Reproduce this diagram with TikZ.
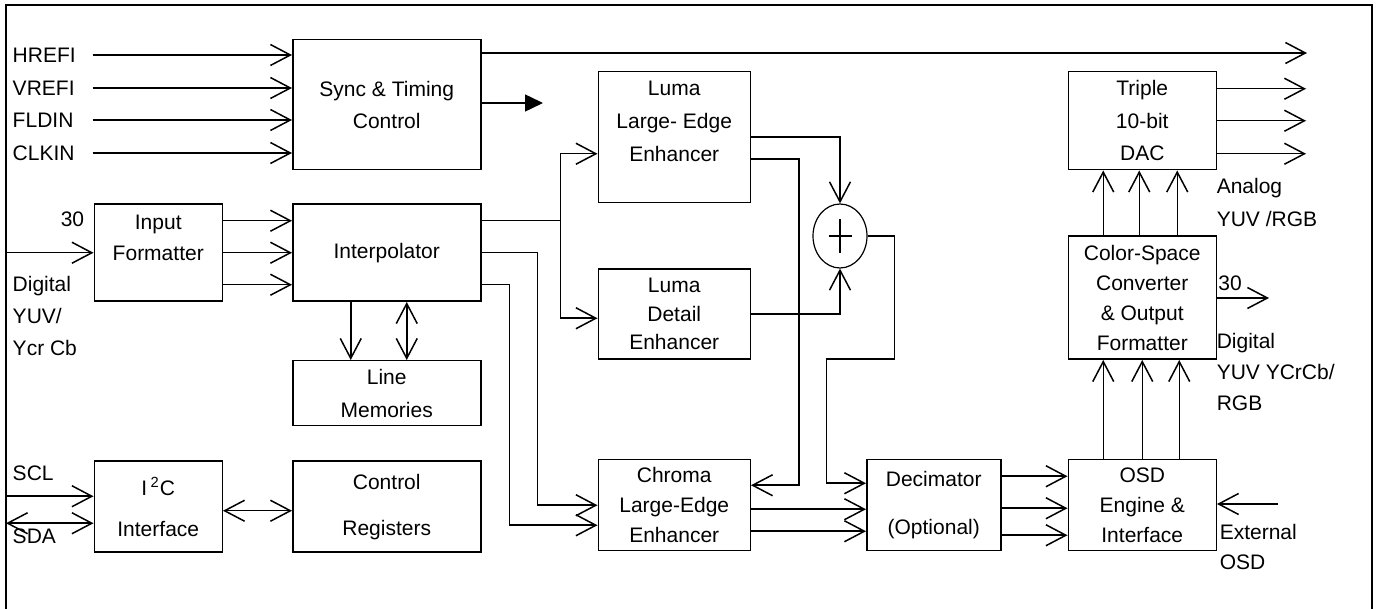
\documentclass[tikz,border=0pt]{standalone}
\usepackage{fontspec}
\setmainfont{Liberation Sans}
\usepackage{tikz}
\usetikzlibrary{arrows.meta, calc, positioning, shapes.geometric}

\begin{document}
\begin{tikzpicture}[
  font=\fontsize{10.5}{15}\selectfont,
  line width=0.75pt,
  block/.style={draw, align=center, inner sep=0pt, line width=0.75pt},
  blocktxt/.style={align=center, inner sep=0pt},
  sumnode/.style={draw, ellipse, minimum width=27pt, minimum height=32pt,
                  inner sep=0pt, line width=0.6pt,
                  path picture={\draw[line width=0.75pt]
                    (path picture bounding box.center) ++(-5.75pt,0) -- ++(11.5pt,0)
                    (path picture bounding box.center) ++(0,8.5pt) -- ++(0,-17pt);}},
  sig/.style={anchor=west, align=left, inner sep=0pt},
  pin/.style={sig, text width=39.5pt},
  arrow/.style={-{Straight Barb[length=10pt, width=10.5pt]}},
  dblarrow/.style={{Straight Barb[length=10pt, width=10.5pt]}-{Straight Barb[length=10pt, width=10.5pt]}},
  fillarrow/.style={-{Triangle[length=9pt, width=8.5pt]}}
]

% ---------------- Frame ----------------
\useasboundingbox (0,0) rectangle (689pt,-304.5pt);
\draw[line width=0.8pt] (3pt,-304.5pt) |- (686pt,-2.5pt) -- (686pt,-304.5pt);
\coordinate (lframe) at (3pt,0);
\coordinate (rout) at (653pt,0);

% ---------------- Input side ----------------
\node[block, minimum width=94pt, minimum height=65pt, anchor=north west] (sync)
  at (146pt,-19.5pt) {Sync \& Timing\\[1pt]Control};
\node[block, minimum width=94pt, minimum height=48.5pt, below=16.5pt of sync] (interp) {Interpolator};
\node[block, minimum width=94pt, minimum height=32.5pt, below=29pt of interp] (linemem) {Line\\[1.5pt]Memories};
\node[block, minimum width=94pt, minimum height=45.5pt, below=17pt of linemem] (ctrl) {Control\\[8pt]Registers};
\node[block, minimum width=64pt, minimum height=48.5pt, left=34.5pt of interp,
      label={[blocktxt, yshift=7.5pt]center:Input\\[0.5pt]Formatter}] (infmt) {};
\node[block, minimum width=64pt, minimum height=45.5pt, left=34.5pt of ctrl] (i2c)
  {I\,\textsuperscript{2}C\\[5.5pt]Interface};

% ---------------- Enhancers ----------------
\node[block, minimum width=76pt, minimum height=65.5pt, below right=16pt and 58pt of sync.north east,
      label={[blocktxt, yshift=8pt]center:Luma\\[1.5pt]Large- Edge\\[1.5pt]Enhancer}] (lumale) {};
\node[block, minimum width=76pt, minimum height=45pt, below=32.5pt of lumale] (lumadet)
  {Luma\\[-0.75pt]Detail\\[-0.75pt]Enhancer};
\node[block, minimum width=76pt, minimum height=45.5pt, below=49.5pt of lumadet] (chroma)
  {Chroma\\Large-Edge\\Enhancer};
\node[sumnode] (sum) at ($(lumale.south east)!0.5!(lumadet.north east)+(44.5pt,0)$) {};

% ---------------- Output side ----------------
\node[block, minimum width=67pt, minimum height=45.5pt, right=57.5pt of chroma] (decim)
  {Decimator\\[9pt](Optional)};
\node[block, minimum width=74pt, minimum height=45.5pt, right=33pt of decim] (osd)
  {OSD\\Engine \&\\Interface};
\node[block, minimum width=74pt, minimum height=61.5pt, above=49.5pt of osd] (csc)
  {Color-Space\\Converter\\\& Output\\Formatter};
\node[block, minimum width=74pt, minimum height=49pt, above=32.5pt of csc] (dac)
  {Triple\\[1.25pt]10-bit\\[1.25pt]DAC};

% ---------------- Pin labels ----------------
\node[pin] (hrefi) at (6pt,-27.5pt) {HREFI};
\node[pin] (vrefi) at (6pt,-44pt) {VREFI};
\node[pin] (fldin) at (6pt,-60pt) {FLDIN};
\node[pin] (clkin) at (6pt,-76.5pt) {CLKIN};
\node (bus30in) at (36.25pt,-109.5pt) {30};
\node[sig] (digin) at (6pt,-158pt) {Digital\\[1pt]YUV/\\[1pt]Ycr Cb};
\node[sig] (scl) at (6pt,-236.5pt) {SCL};
\node[sig] (sda) at (6pt,-268pt) {SDA};
\node[sig] (analog) at (608pt,-101.25pt) {Analog\\[1.5pt]YUV /RGB};
\node (bus30out) at (615pt,-141.5pt) {30};
\node[sig] (digout) at (608pt,-186pt) {Digital\\[0.5pt]YUV YCrCb/\\[0.5pt]RGB};
\node[sig] (extlbl) at (609.5pt,-273.5pt) {External\\OSD};

\coordinate (hout) at (653.5pt,-26.5pt);
\coordinate (tout) at (271.5pt,-51.5pt);
\coordinate (dout) at (634.5pt,-149pt);
\coordinate (extosd) at (639pt,-252pt);

% ---------------- Arrows ----------------
\draw[arrow] (hrefi.east) -- (hrefi.east -| sync.west);
\draw[arrow] (vrefi.east) -- (vrefi.east -| sync.west);
\draw[arrow] (fldin.east) -- (fldin.east -| sync.west);
\draw[arrow] (clkin.east) -- (clkin.east -| sync.west);
\draw[arrow] (sync.east |- hout) -- (hout);
\draw[fillarrow] (sync.east |- tout) -- (tout);

\draw[arrow] (infmt.west -| lframe) -- (infmt.west);
\draw[arrow] ([yshift=16pt]infmt.east) -- ([yshift=16pt]interp.west);
\draw[arrow] (infmt.east) -- (interp.west);
\draw[arrow] ([yshift=-16pt]infmt.east) -- ([yshift=-16pt]interp.west);

\draw[arrow] ([xshift=-18pt]interp.south) -- ([xshift=-18pt]linemem.north);
\draw[dblarrow] ([xshift=10pt]interp.south) -- ([xshift=10pt]linemem.north);

\draw[arrow] ([yshift=5.25pt]i2c.west -| lframe) -- ([yshift=5.25pt]i2c.west);
\draw[dblarrow] ([yshift=-8.25pt]i2c.west -| lframe) -- ([yshift=-8.25pt]i2c.west);
\draw[dblarrow] ([yshift=-2pt]i2c.east) -- ([yshift=-2pt]ctrl.west);

% interpolator to enhancers
\coordinate (split) at ($(interp.east)+(39.5pt,16pt)$);
\draw ([yshift=16pt]interp.east) -- (split);
\draw[arrow] (split) |- ([yshift=-8.25pt]lumale.west);
\draw[arrow] (split) |- ([yshift=-2pt]lumadet.west);
\draw[arrow] (interp.east) -- ++(28pt,0) |- (chroma.west);
\draw[arrow] ([yshift=-16pt]interp.east) -- ++(14pt,0) |- ([yshift=-10pt]chroma.west);

% enhancers to sum and decimator
\draw[arrow] (lumale.east) -| (sum.north);
\draw[arrow] ([yshift=-11pt]lumale.east) -- ++(24pt,0) |- ([yshift=10pt]chroma.east);
\draw[arrow] (lumadet.east) -| (sum.south);
\draw[arrow] (sum.east) -- ++(13.5pt,0) -- ++(0,-61.5pt) -- ++(-34pt,0) |- ([yshift=11pt]decim.west);
\draw[arrow] ([yshift=-2pt]chroma.east) -- ([yshift=-2pt]chroma.east -| decim.west);
\draw[arrow] ([yshift=-13pt]chroma.east) -- ([yshift=-13pt]chroma.east -| decim.west);

% decimator, OSD, converter, DAC
\draw[arrow] ([yshift=14.5pt]decim.east) -- ([yshift=14.5pt]decim.east -| osd.west);
\draw[arrow] ([yshift=-1.5pt]decim.east) -- ([yshift=-1.5pt]decim.east -| osd.west);
\draw[arrow] ([yshift=-15pt]decim.east) -- ([yshift=-15pt]decim.east -| osd.west);
\draw[arrow] (extosd) -- (extosd -| osd.east);

\draw[arrow] ([xshift=-19.5pt]osd.north) -- ([xshift=-19.5pt]csc.south);
\draw[arrow] (osd.north) -- (csc.south);
\draw[arrow] ([xshift=18.5pt]osd.north) -- ([xshift=18.5pt]csc.south);
\draw[arrow] (csc.east |- dout) -- (dout);

\draw[arrow] ([xshift=-19.5pt]csc.north) -- ([xshift=-19.5pt]dac.south);
\draw[arrow] ([xshift=-1.5pt]csc.north) -- ([xshift=-1.5pt]dac.south);
\draw[arrow] ([xshift=17.5pt]csc.north) -- ([xshift=17.5pt]dac.south);

\draw[arrow] ([yshift=16pt]dac.east) -- ([yshift=16pt]dac.east -| rout);
\draw[arrow] (dac.east) -- (dac.east -| rout);
\draw[arrow] ([yshift=-16.5pt]dac.east) -- ([yshift=-16.5pt]dac.east -| rout);

\end{tikzpicture}
\end{document}
